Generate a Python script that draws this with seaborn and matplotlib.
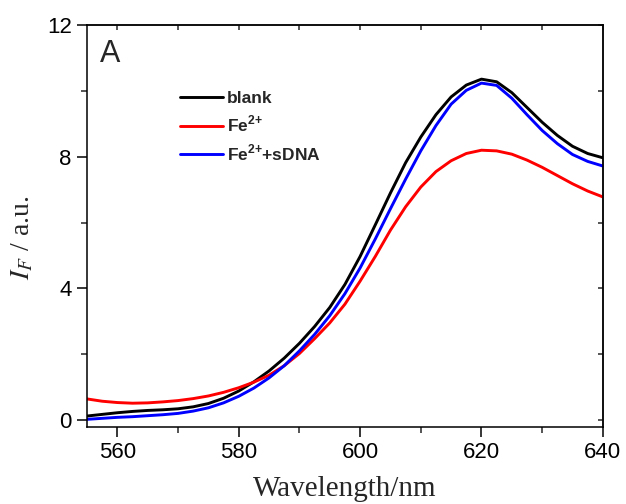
import numpy as np
import pandas as pd
import seaborn as sns
import matplotlib
matplotlib.use("Agg")
import matplotlib.pyplot as plt
from matplotlib.ticker import MultipleLocator, NullFormatter
from matplotlib.lines import Line2D

wavelength = [555, 557.5, 560, 562.5, 565, 567.5, 570, 572.5, 575, 577.5, 580, 582.5,
              585, 587.5, 590, 592.5, 595, 597.5, 600, 602.5, 605, 607.5, 610, 612.5,
              615, 617.5, 620, 622.5, 625, 627.5, 630, 632.5, 635, 637.5, 640]
blank = [0.12, 0.17, 0.22, 0.26, 0.29, 0.31, 0.34, 0.40, 0.50, 0.66, 0.88, 1.16,
         1.49, 1.88, 2.33, 2.84, 3.42, 4.12, 4.97, 5.93, 6.90, 7.82, 8.60, 9.28,
         9.82, 10.18, 10.36, 10.28, 9.95, 9.50, 9.05, 8.65, 8.32, 8.10, 7.97]
fe2 = [0.64, 0.57, 0.53, 0.51, 0.52, 0.55, 0.59, 0.65, 0.73, 0.84, 0.98, 1.15,
       1.36, 1.65, 2.02, 2.47, 2.95, 3.52, 4.22, 4.97, 5.77, 6.48, 7.08, 7.55,
       7.88, 8.10, 8.20, 8.18, 8.08, 7.90, 7.68, 7.43, 7.18, 6.96, 6.78]
fe2_sdna = [0.02, 0.05, 0.08, 0.10, 0.13, 0.16, 0.20, 0.27, 0.37, 0.52, 0.72, 0.97,
            1.28, 1.65, 2.10, 2.60, 3.17, 3.84, 4.62, 5.50, 6.42, 7.32, 8.18, 8.95,
            9.60, 10.02, 10.24, 10.17, 9.78, 9.28, 8.80, 8.40, 8.07, 7.86, 7.72]
series_names = ["blank", "Fe$^{\\mathregular{2{+}}}$", "Fe$^{\\mathregular{2{+}}}$+sDNA"]
colors = ["#000000", "#ff0000", "#0000ff"]

df = pd.concat([
    pd.DataFrame({"wl": wavelength, "val": vals, "series": name})
    for name, vals in zip(series_names, [blank, fe2, fe2_sdna])
])

sns.set_style("ticks")
plt.rcParams["font.family"] = ["Liberation Sans", "DejaVu Sans"]

fig = plt.figure(figsize=(6.26, 5.04), dpi=100)
ax = fig.add_axes([0.139, 0.153, 0.824, 0.797])

sns.lineplot(data=df, x="wl", y="val", hue="series", palette=colors,
             hue_order=series_names, linewidth=2.1, ax=ax, legend=False, sort=False)

ax.set_xlim(555, 640)
ax.set_ylim(-0.21, 12)

for s in ax.spines.values():
    s.set_linewidth(1.1)
    s.set_color("black")

ax.xaxis.set_major_locator(MultipleLocator(20))
ax.xaxis.set_minor_locator(MultipleLocator(10))
ax.yaxis.set_major_locator(MultipleLocator(4))
ax.yaxis.set_minor_locator(MultipleLocator(2))
ax.tick_params(axis="both", which="major", direction="out", length=7, width=1.1,
               labelsize=16, pad=4, colors="black")
ax.tick_params(axis="both", which="minor", direction="out", length=4, width=1.1)
ax.tick_params(top=False, right=False)

secx = ax.secondary_xaxis("top")
secx.xaxis.set_major_locator(MultipleLocator(10))
secx.tick_params(direction="in", length=3.5, width=1.1, labelsize=0)
secx.xaxis.set_major_formatter(NullFormatter())
secy = ax.secondary_yaxis("right")
secy.yaxis.set_major_locator(MultipleLocator(2))
secy.tick_params(direction="in", length=3.5, width=1.1, labelsize=0)
secy.yaxis.set_major_formatter(NullFormatter())
for sa in (secx, secy):
    for s in sa.spines.values():
        s.set_linewidth(1.1)

ax.set_xlabel("Wavelength/nm", family="Liberation Serif", fontsize=21, labelpad=9)
ax.set_ylabel("$I_F$ / a.u.", family="Liberation Serif", fontsize=20,
              math_fontfamily="stix")
ax.yaxis.set_label_coords(-0.1, 0.47)

ax.text(0.025, 0.965, "A", transform=ax.transAxes, fontsize=22,
        ha="left", va="top", family="Liberation Sans")

handles = [Line2D([], [], color=c, lw=2.1) for c in colors]
leg = ax.legend(handles, series_names, loc="upper left", bbox_to_anchor=(0.15, 0.875),
                frameon=False, handlelength=2.45, handletextpad=0.25, labelspacing=0.45,
                prop={"family": "Liberation Sans", "weight": "bold", "size": 12.5})

fig.savefig("out.png", dpi=100)
